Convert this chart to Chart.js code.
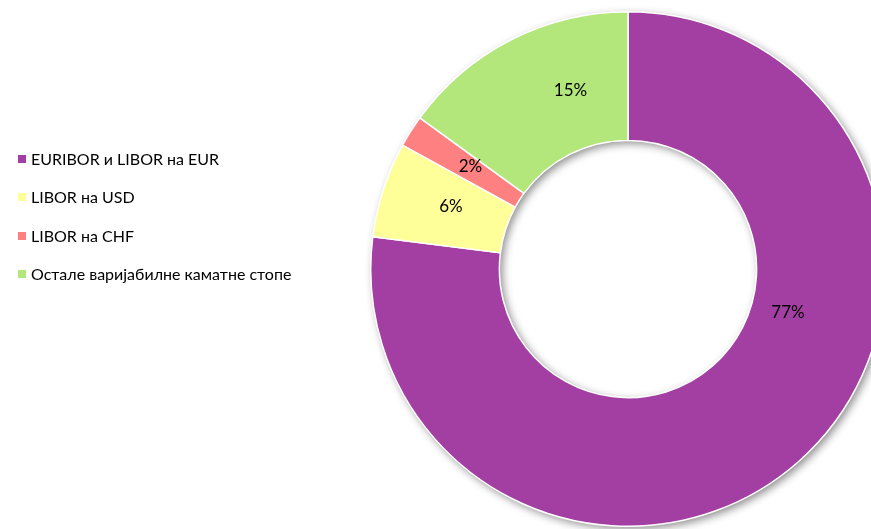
<!DOCTYPE html>
<html>
<head>
<meta charset="utf-8">
<script src="https://cdn.jsdelivr.net/npm/chart.js@4.4.1/dist/chart.umd.min.js"></script>
<style>
    html, body { margin: 0; padding: 0; background: #fff; width: 871px; height: 529px; overflow: hidden; }
    #wrap { position: absolute; left: 0; top: 0; width: 900px; height: 529px; }
    #legend { position: absolute; left: 18px; top: 149px; margin: 0; padding: 0; list-style: none;
              font-family: Lato, 'Liberation Sans', sans-serif; font-size: 16px; color: #000; }
    #legend li { height: 38.3px; display: flex; align-items: flex-start; line-height: 20px; }
    #legend .box { width: 8px; height: 8px; margin: 6px 5px 0 0; flex: none; }
</style>
</head>
<body>
<div id="wrap"><canvas id="pieChart"></canvas></div>
<ul id="legend"></ul>
<script>
const labels = ['EURIBOR и LIBOR на EUR', 'LIBOR на USD', 'LIBOR на CHF', 'Остале варијабилне каматне стопе'];
const shares = [77, 6, 2, 15];
const colors = ['#A33FA3', '#FFFF99', '#FF8080', '#B3E67B'];

// legenda po stavkama
const legendEl = document.getElementById('legend');
labels.forEach((l, i) => {
    const li = document.createElement('li');
    li.innerHTML = `<span class="box" style="background:${colors[i]}"></span><span>${l}</span>`;
    legendEl.appendChild(li);
});

// senka ispod prstena, crta se pre isečaka
const ringShadow = {
    id: 'ringShadow',
    beforeDatasetsDraw(chart) {
        const arc = chart.getDatasetMeta(0).data[0];
        if (!arc) return;
        const { x, y, innerRadius, outerRadius } = arc.getProps(['x', 'y', 'innerRadius', 'outerRadius'], true);
        const ctx = chart.ctx;
        ctx.save();
        ctx.shadowColor = 'rgba(0,0,0,0.45)';
        ctx.shadowBlur = 8;
        ctx.shadowOffsetX = 3;
        ctx.shadowOffsetY = 3;
        ctx.fillStyle = '#ffffff';
        ctx.beginPath();
        ctx.arc(x, y, outerRadius, 0, Math.PI * 2);
        ctx.arc(x, y, innerRadius, 0, Math.PI * 2, true);
        ctx.fill('evenodd');
        ctx.restore();
    }
};

// procenti unutar isečaka
const sliceLabels = {
    id: 'sliceLabels',
    afterDatasetsDraw(chart, args, opts) {
        const ctx = chart.ctx;
        const data = chart.data.datasets[0].data;
        ctx.save();
        ctx.font = opts.font;
        ctx.fillStyle = opts.color;
        ctx.textAlign = 'center';
        ctx.textBaseline = 'middle';
        chart.getDatasetMeta(0).data.forEach((arc, i) => {
            const p = arc.getProps(['x', 'y', 'startAngle', 'endAngle', 'innerRadius', 'outerRadius'], true);
            const a = p.startAngle + opts.along[i] * (p.endAngle - p.startAngle);
            const r = p.innerRadius + opts.depth[i] * (p.outerRadius - p.innerRadius);
            ctx.fillText(data[i] + '%', p.x + r * Math.cos(a), p.y + r * Math.sin(a));
        });
        ctx.restore();
    }
};

new Chart(document.getElementById('pieChart'), {
    type: 'doughnut',
    data: {
        labels,
        datasets: [{
            data: shares,
            backgroundColor: colors,
            borderColor: '#ffffff',
            borderWidth: 1.5,
            hoverOffset: 0
        }]
    },
    options: {
        responsive: true, maintainAspectRatio: false, animation: false,
        cutout: '50%',
        layout: { padding: { left: 370, top: 11, right: 14, bottom: 2 } },
        plugins: {
            legend: { display: false },
            tooltip: { enabled: false },
            sliceLabels: {
                font: '17px Lato, "Liberation Sans", sans-serif',
                color: '#000000',
                along: [0.38, 0.57, 0.58, 0.67],
                depth: [0.29, 0.46, 0.46, 0.46]
            }
        }
    },
    plugins: [ringShadow, sliceLabels]
});
</script>
</body>
</html>
